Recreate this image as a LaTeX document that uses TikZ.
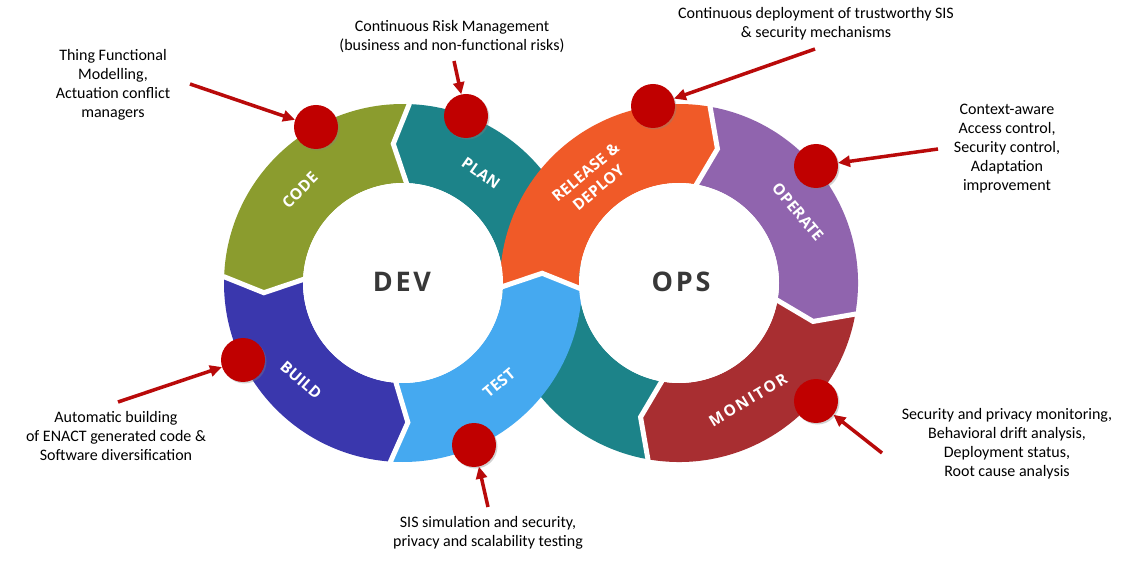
\documentclass[tikz,border=0pt]{standalone}
\usepackage{fontspec}
\setmainfont{Carlito}
\newfontfamily\segfont[LetterSpace=2]{Open Sans}
\newfontfamily\monfont[LetterSpace=13]{Open Sans}
\newfontfamily\bigfont[LetterSpace=10]{Open Sans}
\usetikzlibrary{arrows.meta,shadows}
\definecolor{cOlive}{RGB}{139,156,46}
\definecolor{cTeal}{RGB}{28,131,137}
\definecolor{cBuild}{RGB}{58,55,173}
\definecolor{cTest}{RGB}{69,169,240}
\definecolor{cOrange}{RGB}{240,90,40}
\definecolor{cPurple}{RGB}{144,100,174}
\definecolor{cMonitor}{RGB}{168,46,49}
\definecolor{cRed}{RGB}{192,0,0}
\definecolor{cArrow}{RGB}{185,10,10}
\definecolor{cDark}{RGB}{56,56,56}
% segment of the band: #1 centre, #2 start angle, #3 end angle,
% #4 notch offset at start, #5 head offset at end, #6 colour
\newcommand\bandseg[6]{%
  \fill[#6,shift={#1}] (#2:179) arc[start angle=#2,end angle=#3,radius=179]
    -- ({#3+(#5)}:139.5) -- (#3:100) arc[start angle=#3,end angle=#2,radius=100]
    -- ({#2+(#4)}:139.5) -- cycle;}
\newcommand\gapline[3]{%
  \draw[white,line width=5pt,shift={#1}] (#2:184) -- (#2:179) -- ({#2+(#3)}:139.5) -- (#2:100) -- (#2:95);}
\begin{document}
\begin{tikzpicture}[x=1pt,y=1pt,
  note/.style={align=center,font=\fontsize{16}{19}\selectfont,text=black,inner sep=0pt},
  seglabel/.style={align=center,text=white,inner sep=0pt,font=\fontsize{15.5}{20}\selectfont\segfont\bfseries},
  centrelabel/.style={text=cDark,inner sep=0pt,font=\fontsize{27}{30}\selectfont\bigfont\bfseries},
  hole/.style={fill=white},
  dot/.style={circle,fill=cRed,minimum size=44pt,inner sep=0pt,
    drop shadow={shadow xshift=1.5pt,shadow yshift=-1.5pt,opacity=0.35}},
  arr/.style={draw=cArrow,line width=3.5pt,-{Triangle[length=12pt,width=11pt]}}]
\useasboundingbox[fill=white] (0,0) rectangle (1132,560);
% band (infinity loop)
\bandseg{(679,277)}{260}{175}{-6}{0}{cTeal}
\bandseg{(403,277)}{-8}{88}{0}{6}{cTeal}
\bandseg{(403,277)}{88}{178}{6}{6}{cOlive}
\bandseg{(403,277)}{178}{266}{6}{6}{cBuild}
\bandseg{(403,277)}{266}{358}{6}{6}{cTest}
\bandseg{(679,277)}{182}{80}{-6}{-6}{cOrange}
\bandseg{(679,277)}{80}{-10}{-6}{-6}{cPurple}
\bandseg{(679,277)}{-10}{-100}{-6}{-6}{cMonitor}
% inner white discs
\fill[hole] (403,277) circle[radius=100];
\fill[hole] (679,277) circle[radius=100];
% white gaps at the chevrons
\gapline{(403,277)}{88}{6}
\gapline{(403,277)}{178}{6}
\gapline{(403,277)}{266}{6}
\gapline{(403,277)}{358}{6}
\gapline{(679,277)}{80}{-6}
\gapline{(679,277)}{-10}{-6}
\gapline{(679,277)}{-100}{-6}
% segment labels
\node[seglabel,rotate=45] (lcode) at (300,370) {CODE};
\node[seglabel,rotate=-35] (lplan) at (481,387) {PLAN};
\node[seglabel,rotate=-41] (lbuild) at (301,180) {BUILD};
\node[seglabel,rotate=40] (ltest) at (499,177) {TEST};
\node[seglabel,rotate=40] (lrel) at (592,380) {RELEASE \&\\DEPLOY};
\node[seglabel,rotate=-50] (lop) at (798,348) {OPERATE};
\node[seglabel,rotate=31,font=\fontsize{15.5}{20}\selectfont\monfont\bfseries] (lmon) at (748,160) {MONITOR};
\node[centrelabel] (dev) at (402,278) {DEV};
\node[centrelabel] (ops) at (681,278) {OPS};
% dots
\node[dot] (d1) at (316,433) {};
\node[dot] (d2) at (466,444) {};
\node[dot] (d3) at (653,454) {};
\node[dot] (d4) at (816,394) {};
\node[dot] (d5) at (816,159) {};
\node[dot] (d6) at (474,115) {};
\node[dot] (d7) at (243,200) {};
% arrows
\coordinate (s1) at (190,476);
\coordinate (s2) at (454,499);
\coordinate (s3) at (815,511);
\coordinate (s4) at (938,411);
\coordinate (s5) at (882,107);
\coordinate (s6) at (488,53);
\coordinate (s7) at (118,158);
\draw[arr] (s1) -- (d1);
\draw[arr] (s2) -- (d2);
\draw[arr] (s3) -- (d3);
\draw[arr] (s4) -- (d4);
\draw[arr] (s5) -- (d5);
\draw[arr] (s6) -- (d6);
\draw[arr] (s7) -- (d7);
% notes
\node[note] (n1) at (113,475) {Thing Functional\\Modelling,\\Actuation conflict\\managers};
\node[note] (n2) at (452,523) {Continuous Risk Management\\(business and non-functional risks)};
\node[note] (n3) at (816,536) {Continuous deployment of trustworthy SIS\\\& security mechanisms};
\node[note] (n4) at (1007,411) {Context-aware\\Access control,\\Security control,\\Adaptation\\improvement};
\node[note] (n5) at (1007,116) {Security and privacy monitoring,\\Behavioral drift analysis,\\Deployment status,\\Root cause analysis};
\node[note] (n6) at (488,27) {SIS simulation and security,\\privacy and scalability testing};
\node[note] (n7) at (116,124) {Automatic building\\of ENACT generated code \&\\Software diversification};
\end{tikzpicture}
\end{document}
